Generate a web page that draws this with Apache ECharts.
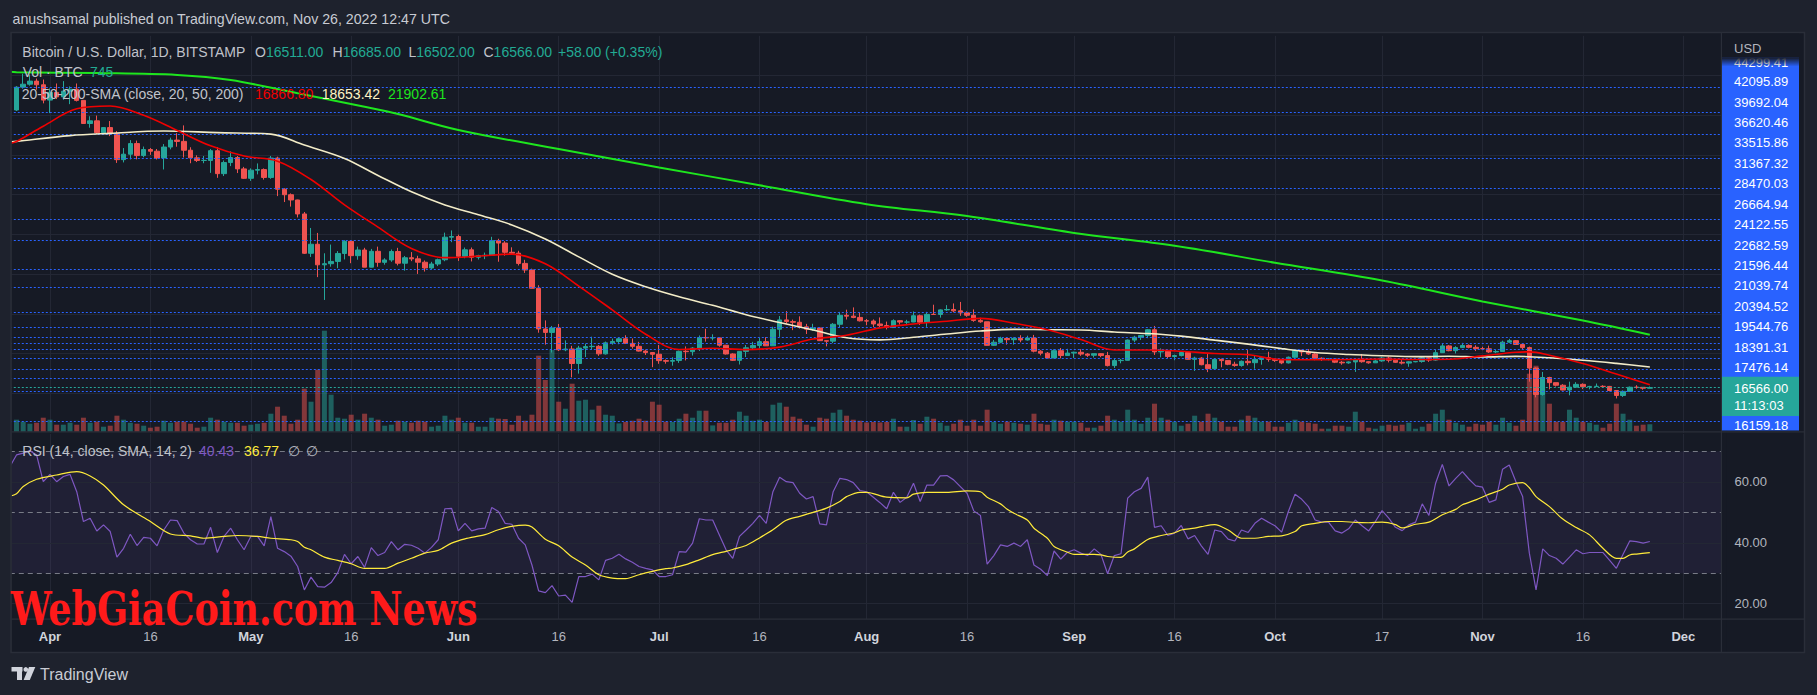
<!DOCTYPE html>
<html><head><meta charset="utf-8">
<script src="https://cdn.jsdelivr.net/npm/echarts@6.0.0/dist/echarts.min.js"></script>
<style>html,body{margin:0;padding:0;background:#1e222d;overflow:hidden}#c{width:1817px;height:695px}</style>
</head><body><div id="c"></div>
<script>
// ---------- DATA (daily BITSTAMP BTC/USD, 2022-03-27 .. 2022-11-26) ----------
const open = [44530,46830,47130,47440,47070,45530,46300,45850,46430,46620,
45500,43170,43440,42250,42760,42160,39530,40080,41150,39940,
40550,40380,39700,40800,41500,41370,40480,39710,39450,39450,
40430,38120,39240,39740,38600,37650,38470,38530,37740,39690,
36550,36000,35470,34060,30100,31010,28940,29050,29280,30080,
31300,29860,30430,28700,30300,29190,29430,30280,29100,29650,
29540,29200,28620,29020,29450,31720,31790,29800,30450,29700,
29860,29900,31370,31130,30200,30110,29080,28420,26580,22480,
22130,22580,20380,20460,19000,20550,20700,20730,19970,21080,
21220,21490,21030,20730,20250,20100,19930,19290,19230,19300,
20230,20190,20550,21620,21580,21580,20840,19960,19320,20220,
20580,20820,21200,20780,22450,23390,23220,23150,22690,22460,
22580,21300,21250,22950,23850,23770,23640,23300,23280,22980,
22820,22620,23310,23170,23180,23810,23160,23950,23940,24400,
24440,24300,24100,23860,23340,23200,20830,21140,21520,21400,
21530,21370,21560,20240,20040,19550,20290,19800,20050,20130,
19950,19830,19990,19800,18790,19290,19320,21360,21650,21830,
22400,20170,20230,19700,19800,20110,19420,19540,18880,18480,
19410,19290,18920,18800,19220,19080,19410,19590,19420,19310,
19060,19630,20340,20160,19960,19530,19420,19440,19130,19060,
19160,19380,19180,19070,19260,19550,19330,19120,19040,19170,
19200,19570,19340,20090,20770,20290,20600,20820,20630,20490,
20480,20160,20210,21150,21300,20920,20600,18540,15880,17590,
17070,16810,16330,16620,16900,16660,16690,16700,16690,16280,
15780,16190,16610,16600,16511];
const high = [46930,48190,48100,47700,47600,46700,47200,47440,46900,47200,
45500,43900,43970,42800,43420,42420,40700,41500,41450,40850,
40700,40600,41100,41750,42200,42980,40780,39970,39900,40600,
40790,39450,40370,39900,38800,38650,39150,38650,39900,39830,
36650,36130,35500,34260,32650,32150,30100,30980,30320,31420,
31300,30770,30650,30540,30770,29600,30480,30650,29830,30220,
29850,29380,29240,29560,32180,32400,31980,30680,30680,29950,
30170,31760,31560,31320,30700,30350,29440,28550,26880,23340,
22780,22980,21330,20780,20780,21000,21700,20850,21210,21510,
21580,21850,21520,21180,20400,20150,20870,19410,19630,20300,
20720,20650,21820,22500,21940,21620,20870,20030,20220,20860,
21180,21560,21650,22700,23780,24280,23420,23750,22990,23000,
22650,21330,23070,24200,24420,24650,24180,23480,23440,23640,
23220,23450,23360,23400,24240,23930,24200,24920,24450,24880,
25050,25200,24250,24450,23600,23200,21370,21690,21520,21630,
21850,21800,21880,20340,20160,20420,20560,20480,20200,20440,
20050,20000,20030,20170,19450,19450,21420,21790,21830,22480,
22780,20520,20340,19890,20190,20120,19680,19640,19950,19500,
19490,19320,19180,19300,20350,19790,19640,20180,19480,19400,
19700,20460,20360,20450,20060,19620,19540,19540,19260,19220,
19520,19950,19220,19420,19680,19700,19350,19340,19250,19250,
19700,19600,20400,21000,20860,20740,21080,20920,20830,20690,
20800,20390,21300,21480,21360,21060,20700,18600,18150,17660,
17070,16920,17170,17120,17000,16750,16980,16810,16740,16290,
16290,16680,16810,16620,16685];
const low = [44430,46670,46980,46570,45200,44220,45630,45560,45120,45390,
43130,42750,42110,42130,41900,39200,39250,39550,39560,39770,
40010,39550,38540,40570,40830,39750,39170,39290,39170,38200,
37700,37880,38880,38180,37580,37390,38050,37520,37600,35860,
35260,34800,33710,30030,29730,27700,25400,28750,28600,29480,
29100,29450,28700,28680,28740,28950,29240,28880,28350,29310,
28020,28260,28480,28810,29300,31220,29330,29600,29280,29470,
29510,29880,29250,29860,29950,28870,28120,26560,22100,20900,
20100,20260,20240,17600,17980,19650,20360,19770,19900,20900,
20940,21000,20500,20200,19860,18630,18970,18980,18780,19060,
19310,19800,20260,21200,21330,20690,19900,19250,18900,19650,
20400,20500,20760,20760,21680,23000,22360,22520,21970,22300,
21260,20720,21050,22600,23430,23560,23230,22860,22660,22680,
22430,22590,22920,22860,23160,22880,22690,23900,23620,24300,
24150,23800,23700,23200,23100,20800,20760,21050,20900,20900,
21140,21310,20120,19820,19550,19550,19520,19800,19560,19770,
19660,19600,19640,18700,18550,19020,19300,21140,21370,21550,
19860,19620,19540,19330,19710,19380,18250,18820,18130,18370,
18620,18830,18670,18680,18820,18470,18880,19180,19160,18930,
19000,19500,19750,19860,19330,19260,19320,19040,18870,18970,
18150,19080,18980,19070,19170,19110,19050,18900,18670,19120,
19080,19160,19260,20060,20230,20010,20560,20530,20250,20340,
20060,20040,20180,21080,20900,20400,17170,15590,15760,16400,
16680,16300,15800,16530,16420,16400,16630,16560,16200,15480,
15630,16160,16460,16360,16502];
const close = [46830,47130,47440,47070,45530,46300,45850,46430,46620,45500,
43170,43440,42250,42760,42160,39530,40080,41150,39940,40550,
40380,39700,40800,41500,41370,40480,39710,39450,39450,40430,
38120,39240,39740,38600,37650,38470,38530,37740,39690,36550,
36000,35470,34060,30100,31010,28940,29050,29280,30080,31300,
29860,30430,28700,30300,29190,29430,30280,29100,29650,29540,
29200,28620,29020,29450,31720,31790,29800,30450,29700,29860,
29900,31370,31130,30200,30110,29080,28420,26580,22480,22130,
22580,20380,20460,19000,20550,20700,20730,19970,21080,21220,
21490,21030,20730,20250,20100,19930,19290,19230,19300,20230,
20190,20550,21620,21580,21580,20840,19960,19320,20220,20580,
20820,21200,20780,22450,23390,23220,23150,22690,22460,22580,
21300,21250,22950,23850,23770,23640,23300,23280,22980,22820,
22620,23310,23170,23180,23810,23160,23950,23940,24400,24440,
24300,24100,23860,23340,23200,20830,21140,21520,21400,21530,
21370,21560,20240,20040,19550,20290,19800,20050,20130,19950,
19830,19990,19800,18790,19290,19320,21360,21650,21830,22400,
20170,20230,19700,19800,20110,19420,19540,18880,18480,19410,
19290,18920,18800,19220,19080,19410,19590,19420,19310,19060,
19630,20340,20160,19960,19530,19420,19440,19130,19060,19160,
19380,19180,19070,19260,19550,19330,19120,19040,19170,19200,
19570,19340,20090,20770,20290,20600,20820,20630,20490,20480,
20160,20210,21150,21300,20920,20600,18540,15880,17590,17070,
16810,16330,16620,16900,16660,16690,16700,16690,16280,15780,
16190,16610,16600,16511,16566];
const volume = [1200,1000,800,900,1400,1200,700,700,900,700,
1400,900,1000,500,600,1600,1200,900,800,600,
400,500,1100,900,1000,1000,800,400,500,1400,
1200,1000,900,900,600,700,800,900,1800,2500,
1600,800,1200,4300,3000,6200,10100,3700,1400,1300,
1700,1200,1800,1400,1200,600,700,1100,1000,900,
1100,1000,500,600,1600,1200,1400,900,900,500,
500,1400,1300,1270,700,1600,1100,1700,7600,5170,
8170,3000,2300,4800,3100,3200,2200,2600,1700,1600,
830,970,1100,1300,1100,3000,2700,1000,970,1300,
1800,1400,2100,2100,630,900,900,1200,2000,1600,
1100,1200,970,2700,2900,2500,1500,1300,700,500,
1400,1300,1900,2200,1600,1200,1100,930,970,930,
970,1300,500,500,1170,800,1500,1300,900,600,
800,1200,600,1200,600,2200,970,800,1000,900,
800,700,1800,800,700,1200,1100,1000,1000,900,
400,400,600,1600,1200,1000,2200,1200,800,1400,
2800,1400,1200,1000,600,800,1600,1000,1800,1400,
1000,500,500,1200,1600,1400,1000,1000,500,500,
900,1200,1000,900,800,300,300,600,600,500,
2000,1000,400,300,600,700,600,700,900,300,
500,800,1800,2200,1200,900,700,500,800,700,
1000,700,1400,900,600,1200,5800,6600,4300,2800,
1000,1000,2200,1400,1000,900,700,400,800,2800,
1800,1200,600,700,745];
// RSI(14); first value belongs to 2022-03-26 (left edge of the pane)
const rsi = [65.0,
68.9,69.5,70.3,68.9,60.1,62.5,60.1,61.8,62.5,56.8,
47.0,48.1,43.9,45.9,43.7,35.3,38.2,42.8,39.1,41.8,
41.5,39.0,44.2,47.5,47.3,43.2,41.0,39.6,39.6,45.1,
36.8,42.1,44.8,41.0,37.7,42.1,42.1,39.0,48.6,38.2,
37.1,35.6,32.2,24.5,28.7,25.6,25.4,26.9,30.2,36.2,
33.1,35.5,31.9,38.4,35.8,36.8,40.4,37.7,39.5,39.2,
38.2,36.6,38.5,41.0,51.2,51.3,43.9,46.4,43.9,44.6,
44.8,51.6,50.3,46.4,46.1,41.5,39.3,32.7,24.2,23.6,
25.9,22.5,22.8,20.4,28.9,28.9,29.7,27.8,34.2,34.9,
36.2,34.7,33.6,32.2,31.6,31.1,28.9,28.9,29.5,37.1,
36.9,39.9,47.9,47.5,47.5,42.6,37.7,34.9,42.1,44.2,
46.4,49.0,46.4,56.8,61.6,60.1,59.8,56.3,54.4,55.2,
46.2,45.9,56.8,61.2,60.8,59.8,57.2,56.8,55.0,53.2,
51.2,56.6,53.3,55.0,59.6,53.6,59.0,59.0,62.0,62.1,
60.7,58.5,56.3,50.5,49.0,33.0,35.8,39.3,38.8,39.9,
38.8,41.0,32.7,31.3,29.2,37.3,34.6,36.9,37.7,36.6,
35.8,38.0,36.2,29.8,35.8,36.4,54.7,56.8,57.9,61.6,
45.1,45.6,42.4,43.2,45.7,41.3,42.4,39.0,36.2,44.2,
43.7,41.2,40.6,44.2,43.4,46.4,48.1,46.8,45.6,43.5,
50.3,56.0,54.3,51.9,47.5,46.8,46.8,43.9,43.2,44.6,
47.5,45.6,43.9,47.0,50.6,48.1,45.1,44.0,45.9,46.8,
52.8,49.0,59.6,65.8,58.7,61.2,63.4,60.9,58.7,58.3,
53.3,54.1,64.2,65.6,60.1,55.2,36.6,24.5,38.0,35.8,
34.9,33.0,35.3,37.7,36.4,36.8,36.8,36.8,34.2,31.6,
36.2,40.6,40.4,39.9,40.43];
// [day index from 2022-03-27, value] samples
const rsiMA = [[-1,55.3],[0,56.1],[1,58.5],[3,60.9],[6,62.3],[9,63.4],[11,62.0],[13,59.0],[16,52.5],[20,47.0],[23,42.9],[26,42.3],[28,41.5],[31,42.1],[33,42.4],[36,42.1],[38,41.5],[41,41.0],[42,40.4],[43,38.5],[44,37.7],[46,35.3],[48,34.2],[50,33.1],[52,31.6],[55,31.6],[57,33.3],[59,34.9],[61,36.6],[63,37.5],[65,39.9],[67,41.3],[70,42.7],[72,44.3],[74,45.4],[76,45.8],[77,45.2],[79,41.2],[81,39.0],[83,35.3],[85,32.7],[87,29.5],[89,28.4],[91,28.2],[93,29.5],[95,30.6],[97,31.5],[98,31.7],[100,32.8],[102,34.4],[104,36.1],[106,37.2],[107,37.8],[109,39.1],[111,41.6],[113,44.3],[115,47.4],[117,48.7],[119,50.0],[121,51.4],[123,53.6],[124,55.2],[126,56.6],[127,56.6],[130,55.0],[133,54.8],[134,56.0],[136,56.6],[139,56.6],[142,57.1],[144,56.8],[145,55.0],[147,52.8],[148,51.0],[149,49.7],[151,47.5],[152,44.8],[154,41.5],[155,38.8],[157,36.9],[158,36.2],[161,36.2],[162,36.0],[163,35.5],[165,35.2],[166,37.0],[167,38.0],[169,41.1],[171,42.4],[173,43.3],[174,44.2],[176,44.8],[177,45.3],[179,46.0],[181,44.2],[183,41.5],[185,41.5],[187,42.1],[189,42.3],[191,43.7],[192,45.6],[194,46.4],[196,47.0],[198,47.0],[200,46.7],[202,46.6],[204,46.8],[206,46.0],[207,44.9],[209,46.1],[211,46.8],[213,49.2],[215,51.0],[216,52.5],[218,54.1],[220,56.0],[222,57.6],[223,59.0],[225,59.8],[226,58.1],[227,55.2],[229,51.9],[231,47.8],[233,45.0],[235,42.6],[237,38.2],[239,34.9],[240,34.9],[241,36.0],[242,36.3],[244,36.77]];
const sma20 = [[-1,41150],[0,41350],[4,42900],[9,44650],[14,44930],[19,43990],[24,42470],[29,40920],[34,39890],[39,39380],[44,37530],[49,34980],[54,32740],[59,30590],[64,29660],[69,29810],[74,30020],[79,29050],[84,26800],[89,24400],[94,21950],[99,20410],[104,20540],[109,20400],[114,20650],[119,21460],[124,21840],[129,22590],[134,22970],[139,23260],[144,23540],[149,23060],[154,22390],[159,21410],[164,20360],[169,20360],[174,20230],[179,20000],[184,19880],[189,19390],[194,19370],[199,19400],[204,19450],[209,19410],[214,19430],[219,19770],[224,20130],[226,20170],[229,19830],[234,18990],[239,17940],[244,16866.8]];
const sma50 = [[-1,41300],[0,41370],[8,41950],[14,42180],[22,42420],[30,42250],[38,42100],[43,41000],[49,39650],[54,37940],[59,36290],[64,34970],[69,33980],[74,32960],[79,31540],[84,29740],[89,27990],[94,26730],[99,25720],[104,24860],[109,23910],[114,23130],[119,22380],[124,21590],[129,21380],[134,21640],[139,21970],[144,22270],[149,22440],[154,22400],[159,22380],[164,22170],[169,22020],[174,21760],[179,21350],[184,20950],[189,20500],[194,20110],[199,19910],[204,19780],[209,19690],[214,19730],[219,19660],[224,19720],[229,19580],[234,19330],[239,19010],[244,18653.42]];
const sma200 = [[-1,48380],[0,48330],[12,48250],[24,48060],[32,47550],[42,46210],[52,44860],[57,44130],[66,42520],[81,40600],[96,38750],[111,36950],[127,35050],[142,33850],[158,32150],[173,30850],[188,29150],[204,27350],[219,25250],[234,23330],[244,21902.61]];
const levelPrices = [46817,44299.41,42095.89,39692.04,36620.46,33515.86,31367.32,28470.03,26664.94,24122.55,22682.59,21596.44,21039.74,20394.52,19544.76,18391.31,17476.14,16159.18,13138];
const lastPrice = 16566.00;
const priceLabels = ['44299.41','42095.89','39692.04','36620.46','33515.86','31367.32','28470.03','26664.94','24122.55','22682.59','21596.44','21039.74','20394.52','19544.76','18391.31','17476.14','16566.00','16159.18'];
const tickDates = ['2022-04-01','2022-04-16','2022-05-01','2022-05-16','2022-06-01','2022-06-16','2022-07-01','2022-07-16','2022-08-01','2022-08-16','2022-09-01','2022-09-16','2022-10-01','2022-10-17','2022-11-01','2022-11-16','2022-12-01'];
const tickTexts = ['Apr','16','May','16','Jun','16','Jul','16','Aug','16','Sep','16','Oct','17','Nov','16','Dec'];
const rsiLevels = [20, 40, 60];
const rsiBands = [30, 50, 70];

// ---------- BUILD ----------
const dates = [];
const firstCat = Date.UTC(2022, 2, 26);
for (let i = 0; i < 257; i++) dates.push(new Date(firstCat + i * 86400000).toISOString().slice(0, 10));
const at = d => dates[d + 1];
const tickMap = {}; tickDates.forEach((d, i) => tickMap[d] = tickTexts[i]);
const isTick = (idx, val) => tickMap[val] !== undefined;

const UP = '#26a69a', DOWN = '#ef5350';
const VOL_UP = 'rgba(38,166,154,0.5)', VOL_DOWN = 'rgba(239,83,80,0.5)';
const PANE = '#161a25', OUTER = '#1e222d', FRAME = '#2a2e39', GRIDC = '#232734';
const FONT = 'Liberation Sans';

const candleData = ['-'].concat(open.map((o, i) => [o, close[i], low[i], high[i]]));
const volData = ['-'].concat(volume.map((v, i) => ({ value: v, itemStyle: { color: close[i] >= open[i] ? VOL_UP : VOL_DOWN } })));
const pairs = arr => arr.map(([d, v]) => [at(d), v]);

const GL = 9.806, GW = 1713.664;
const xAx = i => ({
  type: 'category', gridIndex: i, data: dates, boundaryGap: false,
  axisLine: { show: false }, axisTick: { show: false },
  axisLabel: {
    show: i === 2, interval: isTick, margin: 11, fontFamily: FONT,
    formatter: v => { const t = tickMap[v]; return /\d/.test(t) ? '{d|' + t + '}' : '{m|' + t + '}'; },
    rich: { m: { color: '#d1d4dc', fontWeight: 'bold', fontSize: 13, fontFamily: FONT }, d: { color: '#b2b5be', fontSize: 13, fontFamily: FONT } }
  },
  splitLine: { show: i !== 1, interval: isTick, lineStyle: { color: GRIDC, width: 1 } }
});

function T(x, y, text, fill, size, opts) {
  return Object.assign({ type: 'text', x: x, y: y, z: 100, silent: true,
    style: Object.assign({ text: text, fill: fill, fontSize: size || 13, fontFamily: FONT, align: 'left', verticalAlign: 'middle' }, (opts || {}).style || {}) }, (opts || {}).el || {});
}

const graphic = [
  { type: 'rect', z: -10, silent: true, shape: { x: 11.5, y: 33, width: 1792.5, height: 619 }, style: { fill: PANE } },
  { type: 'rect', z: 50, silent: true, shape: { x: 0, y: 30, width: 11.5, height: 630 }, style: { fill: OUTER } },
  { type: 'rect', z: 50, silent: true, shape: { x: 1721.8, y: 33, width: 5, height: 619 }, style: { fill: PANE } },
  { type: 'rect', z: 51, silent: true, shape: { x: 11.5, y: 431.2, width: 1792.5, height: 1.2 }, style: { fill: FRAME } },
  { type: 'rect', z: 51, silent: true, shape: { x: 11.5, y: 618.6, width: 1792.5, height: 1.2 }, style: { fill: FRAME } },
  { type: 'rect', z: 51, silent: true, shape: { x: 1720.8, y: 33, width: 1.2, height: 619 }, style: { fill: FRAME } },
  { type: 'rect', z: 52, silent: true, shape: { x: 11, y: 32.5, width: 1793.5, height: 620 }, style: { fill: 'none', stroke: FRAME, lineWidth: 1.5 } },
  // price label column
  { type: 'rect', z: 60, silent: true, shape: { x: 1722, y: 52, width: 77, height: 378.5 }, style: { fill: '#2962ff' } },
  { type: 'rect', z: 61, silent: true, shape: { x: 1722, y: 376.7, width: 77, height: 39.3 }, style: { fill: UP } }
];
priceLabels.forEach((t, i) => {
  const y = i === 0 ? 62.6 : (i < 17 ? 61.2 + 20.43 * i : 425.7);
  graphic.push(T(1734, y, t, '#ffffff', 13, { el: { z: 62 } }));
});
graphic.push(T(1734, 405.7, '11:13:03', '#ffffff', 13, { el: { z: 62 } }));
graphic.push({ type: 'rect', z: 63, silent: true, shape: { x: 1722, y: 33.8, width: 77, height: 24 }, style: { fill: PANE } });
graphic.push({ type: 'rect', z: 63, silent: true, shape: { x: 1722, y: 57.5, width: 77, height: 9 },
  style: { fill: new echarts.graphic.LinearGradient(0, 0, 0, 1, [{ offset: 0, color: PANE }, { offset: 1, color: 'rgba(22,26,37,0)' }]) } });
graphic.push(T(1734, 48.3, 'USD', '#b2b5be', 13, { el: { z: 64 } }));
// header + legends
graphic.push(T(12.5, 18.5, 'anushsamal published on TradingView.com, Nov 26, 2022 12:47 UTC', '#c8cbd3', 14.2));
graphic.push(T(22.3, 51.7, 'Bitcoin / U.S. Dollar, 1D, BITSTAMP', '#c0c3cb', 14));
const ohlcLeg = [[255, 'O', '16511.00'], [332.6, 'H', '16685.00'], [408.5, 'L', '16502.00'], [483.5, 'C', '16566.00']];
ohlcLeg.forEach(([x, k, v]) => graphic.push(T(x, 51.7, '{k|' + k + '}{v|' + v + '}', '#c0c3cb', 14,
  { style: { rich: { k: { fill: '#c0c3cb', fontSize: 14, fontFamily: FONT }, v: { fill: '#22ab94', fontSize: 14, fontFamily: FONT } } } })));
graphic.push(T(558, 51.7, '+58.00 (+0.35%)', '#22ab94', 14));
graphic.push(T(22.7, 71.5, 'Vol · BTC', '#c0c3cb', 14));
graphic.push(T(90, 71.5, '745', '#22ab94', 14));
graphic.push(T(21.7, 93.5, '20-50-200-SMA (close, 20, 50, 200)', '#c0c3cb', 14));
graphic.push(T(255, 93.5, '16866.80', '#f00000', 14));
graphic.push(T(321.7, 93.5, '18653.42', '#fff3c4', 14));
graphic.push(T(388, 93.5, '21902.61', '#1ee61e', 14));
graphic.push(T(22.3, 451, 'RSI (14, close, SMA, 14, 2)', '#c0c3cb', 14));
graphic.push(T(199, 451, '40.43', '#7e57c2', 14));
graphic.push(T(244, 451, '36.77', '#ffeb3b', 14));
graphic.push(T(288, 451, '∅', '#b2b5be', 14));
graphic.push(T(306, 451, '∅', '#b2b5be', 14));
// watermark
graphic.push(T(10.7, 609, 'WebGiaCoin.com News', '#ff1a1a', 46,
  { style: { fontFamily: 'DejaVu Serif Condensed', fontWeight: 'bold', lineHeight: 34 }, el: { z: 110, scaleX: 0.88 } }));
// TradingView logo
graphic.push({ type: 'rect', z: 100, silent: true, shape: { x: 11.5, y: 667, width: 11, height: 4.5 }, style: { fill: '#d1d4dc' } });
graphic.push({ type: 'rect', z: 100, silent: true, shape: { x: 17, y: 667, width: 5, height: 13 }, style: { fill: '#d1d4dc' } });
graphic.push({ type: 'circle', z: 100, silent: true, shape: { cx: 25.8, cy: 669.4, r: 2.3 }, style: { fill: '#d1d4dc' } });
graphic.push({ type: 'polygon', z: 100, silent: true, shape: { points: [[29, 667], [35.3, 667], [29.8, 680], [23.6, 680]] }, style: { fill: '#d1d4dc' } });
graphic.push(T(40, 674, 'TradingView', '#c9ccd4', 16));

const lineSeries = (name, data, color, width) => ({
  name, type: 'line', xAxisIndex: 0, yAxisIndex: 0, data: pairs(data), smooth: 0.35, showSymbol: false, symbol: 'none',
  silent: true, z: 5, lineStyle: { color, width }
});

const option = {
  animation: false,
  backgroundColor: OUTER,
  textStyle: { fontFamily: FONT },
  grid: [
    { left: GL, width: GW, top: 35.84, height: 397.16 },
    { left: GL, width: GW, top: 33, height: 398.7 },
    { left: GL, width: GW, top: 434, height: 185 }
  ],
  xAxis: [xAx(0), xAx(1), xAx(2)],
  yAxis: [
    { gridIndex: 0, type: 'value', min: 12000, max: 52000, interval: 4000, position: 'right',
      axisLine: { show: false }, axisTick: { show: false }, axisLabel: { show: false },
      splitLine: { show: true, showMinLine: false, showMaxLine: false, lineStyle: { color: GRIDC } } },
    { gridIndex: 1, type: 'value', min: 0, max: 39870, show: false, splitLine: { show: false } },
    { gridIndex: 2, type: 'value', min: 14.93, max: 75.79, show: false, splitLine: { show: false } }
  ],
  series: [
    { name: 'Volume', type: 'bar', xAxisIndex: 1, yAxisIndex: 1, data: volData, barWidth: 5, silent: true, z: 1 },
    { name: 'BTCUSD', type: 'candlestick', xAxisIndex: 0, yAxisIndex: 0, data: candleData, barWidth: 5, silent: true, z: 3,
      itemStyle: { color: UP, color0: DOWN, borderColor: UP, borderColor0: DOWN, borderWidth: 1 },
      markLine: { silent: true, symbol: ['none', 'none'], label: { show: false }, animation: false,
        lineStyle: { color: '#2962ff', type: [2, 2], width: 1 },
        data: levelPrices.map(p => ({ yAxis: p })).concat([{ yAxis: lastPrice, lineStyle: { color: UP, type: [2, 2], width: 1 } }]) } },
    lineSeries('SMA200', sma200, '#1ee61e', 2),
    lineSeries('SMA50', sma50, '#f3ecc7', 1.6),
    lineSeries('SMA20', sma20, '#f00000', 1.6),
    { name: 'RSI', type: 'line', xAxisIndex: 2, yAxisIndex: 2, data: rsi, showSymbol: false, symbol: 'none', silent: true, z: 5,
      lineStyle: { color: '#7e57c2', width: 1.2 },
      markArea: { silent: true, itemStyle: { color: 'rgba(126,87,194,0.1)' }, data: [[{ yAxis: 30 }, { yAxis: 70 }]] },
      markLine: { silent: true, symbol: ['none', 'none'], animation: false,
        data: rsiBands.map(v => ({ yAxis: v, lineStyle: { color: '#787b86', type: [5, 4], width: 1 }, label: { show: false } }))
          .concat(rsiLevels.map(v => ({ yAxis: v, lineStyle: { color: GRIDC, type: 'solid', width: 1 },
            label: { show: true, position: 'end', distance: 11, formatter: p => p.value.toFixed(2), color: '#b2b5be', fontSize: 13, fontFamily: FONT } }))) } },
    { name: 'RSI MA', type: 'line', xAxisIndex: 2, yAxisIndex: 2, data: pairs(rsiMA), smooth: 0.3, showSymbol: false, symbol: 'none', silent: true, z: 6,
      lineStyle: { color: '#ffeb3b', width: 1.2 } }
  ],
  graphic: graphic
};
const chart = echarts.init(document.getElementById('c'), null, { renderer: 'svg', width: 1817, height: 695 });
chart.setOption(option);
</script>
</body></html>
